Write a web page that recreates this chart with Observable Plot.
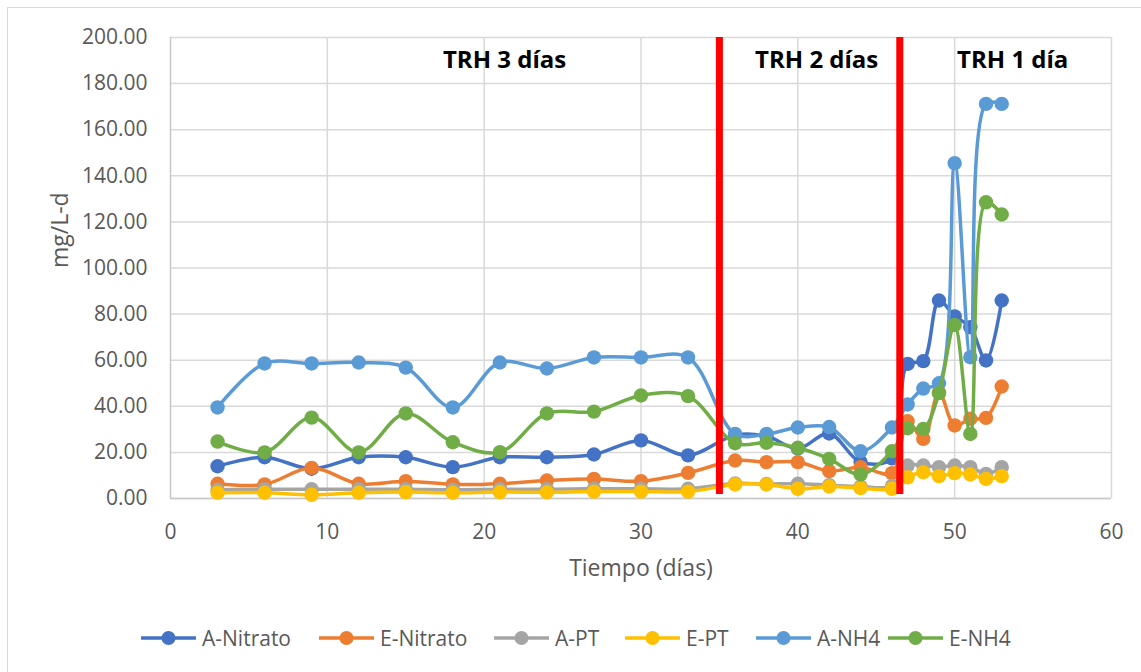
<!DOCTYPE html>
<html>
<head>
<meta charset="utf-8">
<script src="https://cdn.jsdelivr.net/npm/d3@7"></script>
<script src="https://cdn.jsdelivr.net/npm/@observablehq/plot@0.6"></script>
<style>
  html, body { margin: 0; padding: 0; background: #fff; overflow: hidden; }
  #wrap { position: relative; width: 1141px; height: 672px; overflow: hidden; font-family: "Open Sans", sans-serif; }
  #frame { position: absolute; left: 7px; top: 7px; width: 1160px; height: 700px; border: 1.5px solid #d9d9d9; box-sizing: border-box; }
  #chart { position: absolute; left: 0; top: 0; }
  #legend { position: absolute; left: 0; top: 600px; width: 1141px; height: 72px; }
  .item { position: absolute; top: 24px; height: 28px; display: flex; align-items: center; font-size: 21px; color: #595959; white-space: nowrap; }
  .item svg { margin-right: 6px; }
</style>
</head>
<body>
<div id="wrap">
  <div id="frame"></div>
  <div id="chart"></div>
  <div id="legend"></div>
</div>
<script>
// ---- data ----
const days = [3, 6, 9, 12, 15, 18, 21, 24, 27, 30, 33, 36, 38, 40, 42, 44, 46, 47, 48, 49, 50, 51, 52, 53];
const seriesNames = ["A-Nitrato", "E-Nitrato", "A-PT", "E-PT", "A-NH4", "E-NH4"];
const seriesColors = ["#4472C4", "#ED7D31", "#A5A5A5", "#FFC000", "#5B9BD5", "#70AD47"];
const aNitrato = [14.0, 17.9, 12.9, 17.9, 17.9, 13.6, 17.9, 17.9, 19.1, 25.2, 18.7, 27.5, 27.0, 21.7, 28.2, 15.8, 17.4, 58.4, 59.6, 85.9, 79.0, 74.3, 59.9, 85.9];
const eNitrato = [6.4, 6.1, 13.3, 6.4, 7.5, 6.1, 6.4, 7.8, 8.5, 7.5, 11.1, 16.5, 15.8, 15.8, 11.9, 13.6, 11.0, 33.5, 25.9, 46.0, 31.7, 34.6, 35.0, 48.6];
const aPT = [3.8, 4.0, 4.0, 4.0, 4.0, 3.8, 4.0, 4.0, 4.2, 4.2, 4.2, 6.5, 6.3, 6.4, 5.8, 5.2, 5.4, 14.3, 14.3, 13.6, 14.3, 13.6, 10.7, 13.6];
const ePT = [2.5, 2.5, 1.6, 2.5, 2.8, 2.5, 2.8, 2.7, 3.0, 3.0, 3.0, 6.1, 6.1, 4.2, 5.2, 4.5, 4.2, 9.2, 11.4, 9.7, 11.0, 10.4, 8.5, 9.7];
const aNH4 = [39.5, 58.6, 58.6, 59.0, 56.8, 39.5, 59.0, 56.4, 61.2, 61.2, 61.2, 28.0, 28.0, 30.8, 31.0, 20.5, 30.8, 40.8, 47.7, 50.0, 145.5, 61.3, 171.2, 171.2];
const eNH4 = [24.7, 20.0, 35.1, 20.0, 36.9, 24.4, 20.1, 36.9, 37.7, 44.7, 44.4, 24.0, 24.2, 22.0, 17.2, 10.4, 20.5, 30.5, 30.2, 45.7, 75.3, 28.0, 128.5, 123.2];
const phaseLabels = ["TRH 3 días", "TRH 2 días", "TRH 1 día"];
const phaseBoundaries = [35, 46.5];
const yTicks = [0, 20, 40, 60, 80, 100, 120, 140, 160, 180, 200];
const xTicks = [0, 10, 20, 30, 40, 50, 60];
const yTitle = "mg/L-d";
const xTitle = "Tiempo (días)";

// ---- build ----
const seriesValues = [aNitrato, eNitrato, aPT, ePT, aNH4, eNH4];
const rows = seriesNames.flatMap((s, i) => days.map((d, j) => ({series: s, day: d, value: seriesValues[i][j]})));
const labelX = [21.3, 41.2, 53.7];
const labelRows = phaseLabels.map((t, i) => ({t, x: labelX[i]}));

const seriesMarks = seriesNames.flatMap((s, i) => {
  const data = rows.filter(r => r.series === s);
  return [
    Plot.line(data, {x: "day", y: "value", stroke: seriesColors[i], strokeWidth: 3.5, curve: "catmull-rom"}),
    Plot.dot(data, {x: "day", y: "value", r: 7.2, fill: seriesColors[i], stroke: "none"})
  ];
});

const chart = Plot.plot({
  width: 1141,
  height: 600,
  marginLeft: 170,
  marginRight: 30,
  marginTop: 37,
  marginBottom: 102,
  x: {domain: [0, 60]},
  y: {domain: [0, 200]},
  style: {fontFamily: "Open Sans", fontSize: "21px", color: "#595959", background: "transparent"},
  marks: [
    Plot.gridY(yTicks, {stroke: "#d9d9d9", strokeOpacity: 1, strokeWidth: 1.5}),
    Plot.gridX(xTicks.slice(1), {stroke: "#d9d9d9", strokeOpacity: 1, strokeWidth: 1.5}),
    Plot.ruleY([0], {stroke: "#c8c8c8", strokeWidth: 1.5}),
    Plot.ruleX([0], {stroke: "#c8c8c8", strokeWidth: 1.5}),
    Plot.axisY(yTicks, {tickFormat: d3.format(".2f"), tickSize: 0, tickPadding: 23, label: null}),
    Plot.axisX(xTicks, {tickSize: 0, tickPadding: 26, label: null}),
    ...seriesMarks,
    Plot.ruleX(phaseBoundaries, {y1: 1.7, y2: 200, stroke: "#FF0000", strokeWidth: 7}),
    Plot.text(labelRows, {x: "x", y: 190, text: "t", fontSize: 24, fontWeight: "bold", fill: "#000", textAnchor: "middle"}),
    Plot.text([yTitle], {frameAnchor: "left", dx: -110, rotate: -90, fontSize: 23, fill: "#595959"}),
    Plot.text([xTitle], {frameAnchor: "bottom", dy: 77, fontSize: 23, fill: "#595959"})
  ]
});
document.getElementById("chart").appendChild(chart);

// ---- legend ----
const legendLeft = [141, 319, 494, 625, 756, 888];
const legend = document.getElementById("legend");
seriesNames.forEach((s, i) => {
  const item = document.createElement("div");
  item.className = "item";
  item.style.left = legendLeft[i] + "px";
  item.innerHTML = `<svg width="55" height="20"><line x1="0" y1="10" x2="55" y2="10" stroke="${seriesColors[i]}" stroke-width="3.5"/><circle cx="27.5" cy="10" r="7" fill="${seriesColors[i]}"/></svg><span>${s}</span>`;
  legend.appendChild(item);
});
</script>
</body>
</html>
